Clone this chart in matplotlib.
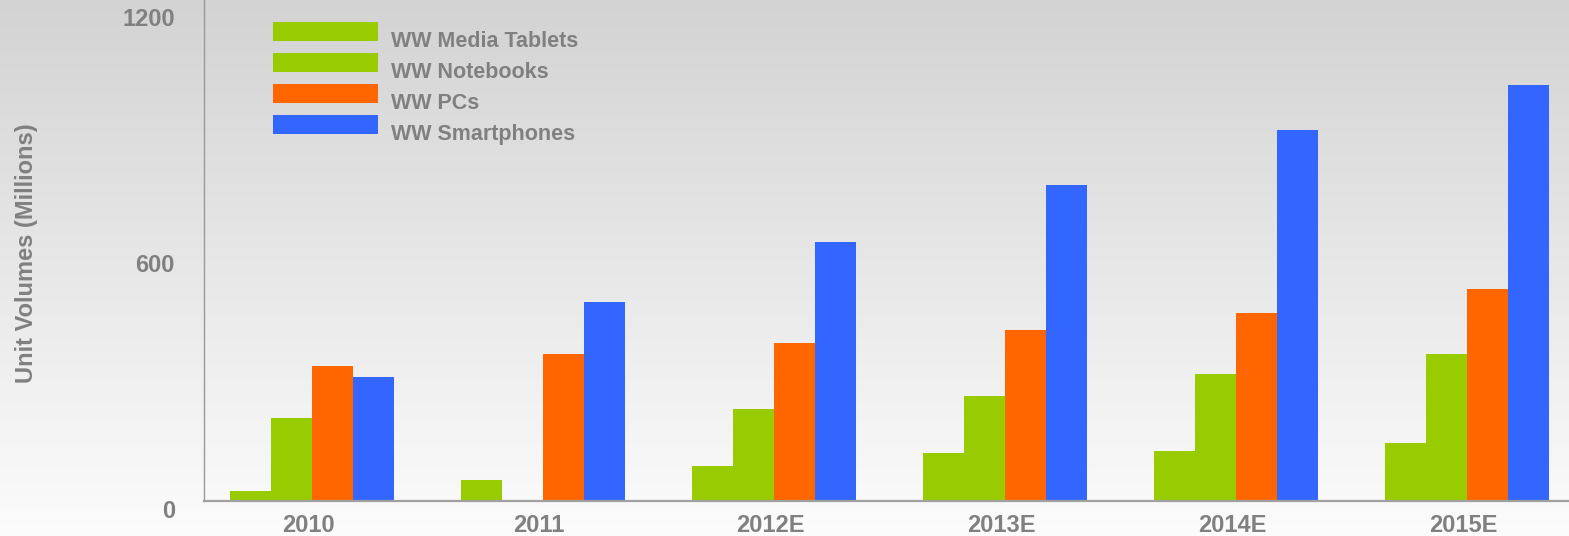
import numpy as np
import matplotlib
matplotlib.use('Agg')
import matplotlib.pyplot as plt
from matplotlib.patches import Rectangle
from matplotlib.transforms import ScaledTranslation

years = ['2010', '2011', '2012E', '2013E', '2014E', '2015E']
series = ['WW Media Tablets', 'WW Notebooks', 'WW PCs', 'WW Smartphones']
tablets = [23, 50, 84, 116, 120, 140]
notebooks = [201, 0, 223, 254, 308, 357]
pcs = [327, 357, 383, 415, 456, 515]
smartphones = [301, 483, 629, 768, 902, 1011]
colors = ['#99cc00', '#99cc00', '#ff6600', '#3366ff']
yticks = [0, 600, 1200]

W, H = 1569, 536
GREY = '#808080'
plt.rcParams['font.family'] = ['Liberation Sans', 'DejaVu Sans']
plt.rcParams['font.weight'] = 'bold'

fig = plt.figure(figsize=(W / 100, H / 100), dpi=100)

# grey vertical gradient behind everything
bg = fig.add_axes([0, 0, 1, 1], zorder=-1)
grad = np.linspace(211, 252, 256)[:, None] / 255.0
bg.imshow(np.repeat(grad, 3, axis=1).reshape(256, 1, 3).repeat(2, axis=1),
          aspect='auto', extent=[0, 1, 0, 1], origin='upper')
bg.axis('off')

def px(x, y):
    return x / W, 1 - y / H

left, base = 204, 500.5
ax = fig.add_axes([left / W, (H - base) / H, 1 - left / W, base / H])
ax.patch.set_alpha(0)

w = 41 / 231
x = np.arange(len(years))
for j, (vals, c) in enumerate(zip([tablets, notebooks, pcs, smartphones], colors)):
    ax.bar(x + (j - 1.5) * w, vals, width=w, color=c, linewidth=0, zorder=2)

ax.set_xlim((left - 312) / 231, (W - 312) / 231)
ax.set_ylim(0, base / 0.4108)

ax.set_yticks(yticks)
ax.set_yticklabels([str(v) for v in yticks], fontsize=17, color=GREY, fontweight='bold')
ax.set_xticks(x)
ax.set_xticklabels(years, fontsize=17, color=GREY, fontweight='bold')
ax.tick_params(axis='y', length=0, pad=21)
ax.tick_params(axis='x', length=0, pad=10)
for lab in ax.get_yticklabels():
    lab.set_transform(lab.get_transform() + ScaledTranslation(0, -9 / 100, fig.dpi_scale_trans))
for lab in ax.get_xticklabels():
    lab.set_transform(lab.get_transform() + ScaledTranslation(-4 / 100, 0, fig.dpi_scale_trans))

for s in ['top', 'right']:
    ax.spines[s].set_visible(False)
ax.spines['left'].set_color('#999999')
ax.spines['left'].set_linewidth(1.0)
ax.spines['bottom'].set_color('#a0a0a0')
ax.spines['bottom'].set_linewidth(1.6)

ax.set_ylabel('Unit Volumes (Millions)', fontsize=17, color=GREY, fontweight='bold', va='center')
ax.yaxis.set_label_coords((27 - left) / (W - left), (base - 253) / base)

# legend drawn by hand
for i, (name, c) in enumerate(zip(series, colors)):
    top = 22 + 31 * i
    x0, y0 = px(273, top + 19)
    fig.add_artist(Rectangle((x0, y0), 105 / W, 19 / H, transform=fig.transFigure,
                             facecolor=c, linewidth=0))
    tx, ty = px(391, top + 25)
    fig.text(tx, ty, name, fontsize=15.5, color=GREY, fontweight='bold', va='baseline')

fig.savefig('out.png', dpi=100)
